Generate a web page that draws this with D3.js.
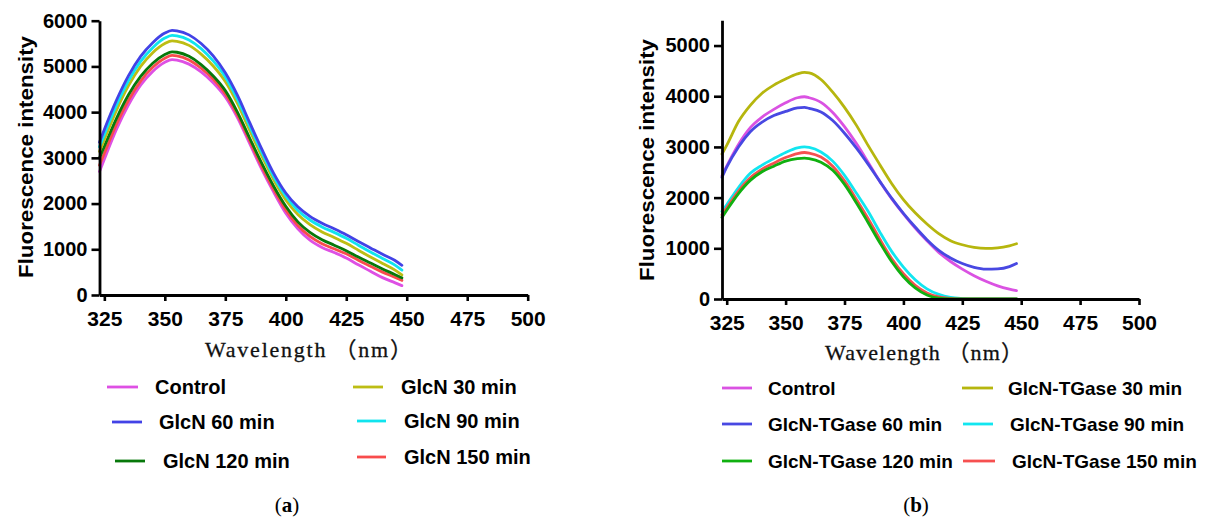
<!DOCTYPE html>
<html>
<head>
<meta charset="utf-8">
<script src="https://cdn.jsdelivr.net/npm/d3@7/dist/d3.min.js"></script>
<style>
  html, body { margin: 0; padding: 0; background: #fff; }
  svg { display: block; }
  .tick text { font-family: "Liberation Sans", Arial, sans-serif; font-weight: bold; fill: #000; }
  .domain, .tick line { stroke: #000; }
</style>
</head>
<body>
<svg id="chart" width="1210" height="517"></svg>
<script>
// ---- Panel (a): GlcN-treated samples ----
const wavelengthA = [323,325,330,335,340,345,350,353,355,360,365,370,375,380,385,390,395,400,405,410,415,420,425,430,435,440,445,448];
const controlA  = [2700,2970,3620,4160,4590,4890,5090,5150,5140,5050,4880,4640,4330,3880,3320,2760,2250,1790,1450,1200,1040,930,810,660,520,380,270,205];
const glcn30A   = [3140,3400,4040,4580,5000,5300,5500,5560,5550,5460,5270,5010,4670,4190,3610,3050,2520,2080,1760,1540,1380,1260,1130,980,830,690,550,440];
const glcn60A   = [3340,3620,4260,4800,5220,5520,5730,5790,5780,5690,5500,5230,4860,4370,3780,3200,2660,2230,1930,1720,1570,1450,1320,1170,1030,890,760,650];
const glcn90A   = [3240,3510,4150,4690,5110,5410,5620,5680,5670,5580,5390,5120,4770,4280,3700,3130,2590,2160,1850,1640,1490,1370,1240,1090,940,800,660,545];
const glcn120A  = [3000,3250,3860,4380,4780,5070,5260,5320,5310,5220,5040,4790,4470,4000,3440,2890,2380,1940,1600,1370,1210,1090,970,830,700,570,450,375];
const glcn150A  = [2840,3100,3730,4260,4680,4980,5180,5240,5230,5140,4960,4720,4400,3940,3380,2820,2310,1860,1520,1280,1120,1010,900,760,630,500,390,320];
const namesA    = ["Control","GlcN 30 min","GlcN 60 min","GlcN 90 min","GlcN 120 min","GlcN 150 min"];

// ---- Panel (b): GlcN-TGase-treated samples ----
const wavelengthB = [323,325,330,335,340,345,350,355,358,360,365,370,375,380,385,390,395,400,405,410,415,420,425,430,435,440,445,448];
const controlB  = [2430,2620,3050,3380,3590,3740,3870,3970,3990,3970,3880,3680,3400,3070,2700,2320,1980,1680,1400,1150,920,740,590,460,350,260,195,165];
const tg30B     = [2860,3030,3500,3820,4060,4220,4340,4440,4470,4460,4330,4080,3780,3430,3030,2650,2280,1960,1700,1480,1290,1150,1070,1020,1000,1010,1050,1090];
const tg60B     = [2400,2600,3000,3300,3490,3620,3700,3770,3780,3760,3690,3520,3270,2980,2660,2320,1990,1690,1420,1170,960,810,700,625,590,595,640,700];
const tg90B     = [1730,1860,2200,2480,2640,2770,2890,2980,3000,2990,2900,2720,2440,2090,1730,1320,940,630,380,200,90,30,8,0,0,0,0,0];
const tg120B    = [1610,1750,2080,2340,2510,2620,2720,2770,2780,2770,2700,2540,2260,1900,1510,1110,740,440,220,80,15,0,0,0,0,0,0,0];
const tg150B    = [1660,1800,2130,2390,2560,2680,2790,2870,2890,2880,2800,2620,2330,1970,1590,1180,800,500,270,120,40,10,0,0,0,0,0,0];
const namesB    = ["Control","GlcN-TGase 30 min","GlcN-TGase 60 min","GlcN-TGase 90 min","GlcN-TGase 120 min","GlcN-TGase 150 min"];

// shared axis ticks
const xTicks  = [325,350,375,400,425,450,475,500];
const yTicksA = [0,1000,2000,3000,4000,5000,6000];
const yTicksB = [0,1000,2000,3000,4000,5000];

const svg = d3.select("#chart");
svg.append("rect").attr("width",1210).attr("height",517).attr("fill","#fff");

function drawPanel(p) {
  const g = svg.append("g");
  const x = d3.scaleLinear().domain([323,500]).range([p.left, p.right]);
  const y = d3.scaleLinear().domain([0, p.yMax]).range([p.bottom, p.top]);

  // series curves
  const line = d3.line()
    .x(d => x(d[0])).y(d => y(d[1]))
    .curve(d3.curveMonotoneX);
  p.order.forEach(i => {
    const pts = p.wavelength.map((w, k) => [w, p.series[i][k]]);
    g.append("path")
      .attr("d", line(pts))
      .attr("fill","none")
      .attr("stroke", p.colors[i])
      .attr("stroke-width", 2.8)
      .attr("stroke-linejoin","round")
      .attr("stroke-linecap","round");
  });

  // axes
  const xAxis = g.append("g")
    .attr("transform", `translate(0,${p.bottom})`)
    .call(d3.axisBottom(x).tickValues(xTicks).tickFormat(d3.format("d"))
      .tickSize(6).tickSizeOuter(0).tickPadding(10));
  xAxis.selectAll(".tick text").style("font-size","21px");

  const yAxis = g.append("g")
    .attr("transform", `translate(${p.left},0)`)
    .call(d3.axisLeft(y).tickValues(p.yTicks).tickFormat(d3.format("d"))
      .tickSize(8).tickSizeOuter(0).tickPadding(4));
  yAxis.selectAll(".tick text").style("font-size","20px");

  [xAxis, yAxis].forEach(a => {
    a.select(".domain").attr("stroke-width", 2.8);
    a.selectAll(".tick line").attr("stroke-width", 2.6);
  });

  // axis titles
  g.append("text")
    .attr("transform", `translate(${p.yTitleX},${p.yTitleY}) rotate(-90)`)
    .attr("text-anchor","middle")
    .attr("dominant-baseline","central")
    .attr("textLength", 242)
    .attr("lengthAdjust","spacingAndGlyphs")
    .style("font-family","'Liberation Sans', Arial, sans-serif")
    .style("font-weight","bold")
    .style("font-size","21px")
    .text("Fluorescence intensity");

  g.append("text")
    .attr("x", p.xTitleX).attr("y", p.xTitleY)
    .attr("textLength", p.xTitleW)
    .attr("lengthAdjust","spacing")
    .style("font-family","'Liberation Serif', 'Noto Sans CJK SC', serif")
    .style("font-size","22px")
    .attr("fill","#111")
    .attr("stroke","#111")
    .attr("stroke-width", 0.3)
    .text("Wavelength （nm）");

  // legend
  p.legend.forEach(item => {
    g.append("line")
      .attr("x1", item.x1).attr("x2", item.x2)
      .attr("y1", item.y).attr("y2", item.y)
      .attr("stroke", p.colors[item.i])
      .attr("stroke-width", 2.8);
    g.append("text")
      .attr("x", item.tx).attr("y", item.y + 7)
      .style("font-family","'Liberation Sans', Arial, sans-serif")
      .style("font-weight","bold")
      .style("font-size", p.legendSize)
      .text(p.names[item.i]);
  });

  // panel caption
  const cap = g.append("text")
    .attr("x", p.capX).attr("y", 512)
    .attr("text-anchor","middle")
    .style("font-family","'Liberation Serif', serif")
    .style("font-size","21px");
  cap.append("tspan").text("(");
  cap.append("tspan").style("font-weight","bold").text(p.capLetter);
  cap.append("tspan").text(")");
}

drawPanel({
  left: 99.5, right: 527.7, top: 20.7, bottom: 295, yMax: 6000, yTicks: yTicksA,
  wavelength: wavelengthA,
  series: [controlA, glcn30A, glcn60A, glcn90A, glcn120A, glcn150A],
  names: namesA,
  colors: ["#DE50E4", "#BDBD14", "#4242E6", "#10E4EE", "#07780A", "#F84C4C"],
  order: [0, 5, 4, 1, 3, 2],
  yTitleX: 25, yTitleY: 157,
  xTitleX: 205, xTitleY: 357, xTitleW: 207,
  legendSize: "20px",
  legend: [
    {i:0, x1:107, x2:138, y:387, tx:155},
    {i:2, x1:112, x2:142, y:422, tx:159},
    {i:4, x1:115, x2:145, y:461, tx:163},
    {i:1, x1:353, x2:383, y:387, tx:401},
    {i:3, x1:357, x2:386, y:421, tx:404},
    {i:5, x1:357, x2:386, y:457, tx:404}
  ],
  capX: 287, capLetter: "a"
});

drawPanel({
  left: 722, right: 1139, top: 20.2, bottom: 299, yMax: 5500, yTicks: yTicksB,
  wavelength: wavelengthB,
  series: [controlB, tg30B, tg60B, tg90B, tg120B, tg150B],
  names: namesB,
  colors: ["#DA52E2", "#B6B60E", "#4848E2", "#12E6F0", "#10B010", "#F65050"],
  order: [1, 0, 2, 3, 5, 4],
  yTitleX: 646, yTitleY: 160,
  xTitleX: 825, xTitleY: 360, xTitleW: 198,
  legendSize: "19px",
  legend: [
    {i:0, x1:722, x2:752, y:388, tx:768},
    {i:2, x1:722, x2:752, y:424, tx:768},
    {i:4, x1:722, x2:752, y:461, tx:768},
    {i:1, x1:962, x2:993, y:388, tx:1008},
    {i:3, x1:963, x2:993, y:424, tx:1010},
    {i:5, x1:963, x2:995, y:461, tx:1012}
  ],
  capX: 916, capLetter: "b"
});
</script>
</body>
</html>
